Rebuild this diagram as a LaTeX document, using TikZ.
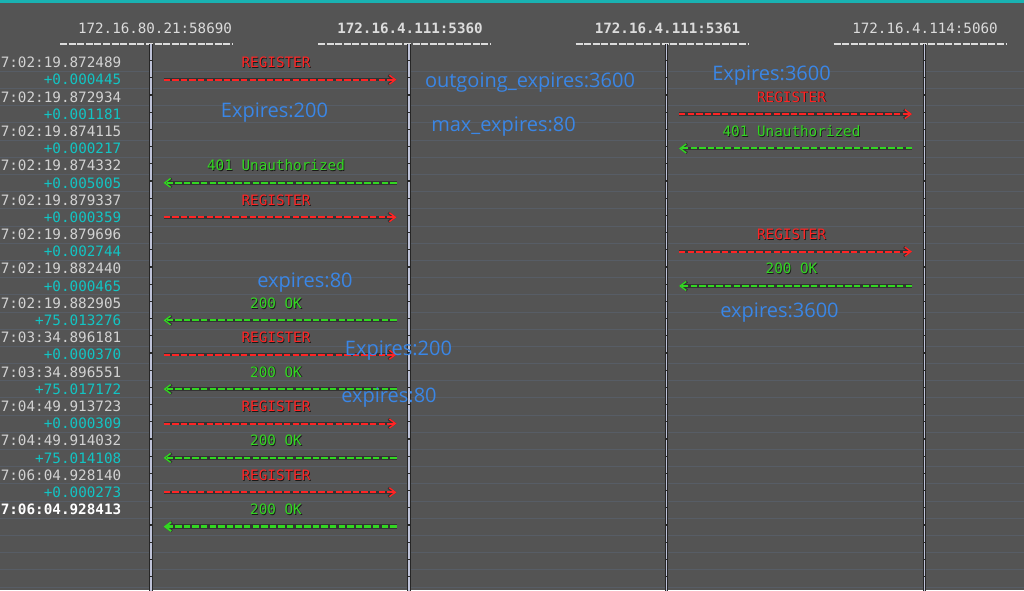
\documentclass[tikz,border=0pt]{standalone}
\usepackage{fontspec}
\setmonofont{DejaVu Sans Mono}
\newfontfamily\annfont{Open Sans}
\usetikzlibrary{arrows.meta}
\definecolor{bg}{HTML}{545454}
\definecolor{topbar}{HTML}{19B2B2}
\definecolor{hdr}{HTML}{DCDCDC}
\definecolor{tgray}{HTML}{D2D2D2}
\definecolor{tteal}{HTML}{12C4C4}
\definecolor{sipred}{HTML}{FF2424}
\definecolor{sipgreen}{HTML}{33D622}
\definecolor{ann}{HTML}{3A86E6}
\definecolor{lifec}{HTML}{BEC2D8}
\definecolor{gridc}{HTML}{575D66}
\tikzset{
  hdrtxt/.style={font=\ttfamily\fontsize{14.2}{14.2}\selectfont, text=hdr, anchor=base, inner sep=0pt},
  hdrline/.style={draw=hdr, line width=1.4pt, dash pattern=on 7pt off 1.6pt},
  timetxt/.style={font=\ttfamily\fontsize{14.3}{14.3}\selectfont, anchor=base east, inner sep=0pt},
  lbl/.style={font=\ttfamily\fontsize{14.3}{14.3}\selectfont, anchor=base, inner sep=0pt},
  annot/.style={font=\annfont\fontsize{20}{20}\selectfont, text=ann, inner sep=0pt},
  lifeback/.style={draw=black!85, line width=3.4pt},
  lifefront/.style={draw=lifec, line width=1.4pt, dash pattern=on 15.9pt off 1.3pt},
  msgline/.style={draw=#1, line width=2pt, dash pattern=on 6.4pt off 2.2pt,
    -{Straight Barb[length=6pt,width=9pt,line width=1.4pt]},
    preaction={draw=black!80, line width=3.4pt, solid, -{Straight Barb[length=6pt,width=9pt,line width=2.6pt]}}},
  msgbold/.style={draw=#1, line width=3pt, dash pattern=on 6.4pt off 2.2pt,
    -{Straight Barb[length=6pt,width=9pt,line width=2pt]},
    preaction={draw=black!80, line width=4.4pt, solid, -{Straight Barb[length=6pt,width=9pt,line width=3pt]}}},
}
\newcommand\sipmsg[6]{%
  \pgfmathsetmacro\mly{62.5+17.19*#1+5.2}%
  \pgfmathsetmacro\may{62.5+17.19*(#1+1)}%
  \pgfmathsetmacro\mlx{(#2+#3)/2-4}%
  \coordinate (s#1) at (#2,\may);
  \coordinate (e#1) at (#3,\may);
  \draw[#6=#5] (s#1) -- (e#1);
  \node[lbl,text=black!90] (k#1) at (\mlx+0.8,\mly+0.8) {#4};
  \node[lbl,text=#5] (l#1) at (\mlx,\mly) {#4};
}
\begin{document}
\begin{tikzpicture}[x=1pt,y=-1pt]
\useasboundingbox (0,0) rectangle (1024,590);
\fill[bg] (0,0) rectangle (1024,590);
\fill[topbar] (0,0) rectangle (1024,2.5);
% faint grid
\foreach \k in {0,...,30} {
  \pgfmathsetmacro\gy{62.5+17.19*(\k+0.5)}
  \draw[gridc, line width=0.5pt] (0,\gy) -- (1024,\gy);
}
% headers
\node[hdrtxt] (h1) at (155,33) {172.16.80.21:58690};
\node[hdrtxt, font=\ttfamily\bfseries\fontsize{14.2}{14.2}\selectfont] (h2) at (410,33) {172.16.4.111:5360};
\node[hdrtxt, font=\ttfamily\bfseries\fontsize{14.2}{14.2}\selectfont] (h3) at (667.5,33) {172.16.4.111:5361};
\node[hdrtxt] (h4) at (925,33) {172.16.4.114:5060};
\foreach \c/\x in {1/151,2/409,3/666.5,4/924.5} {
  \coordinate (ul\c) at (\x-91,44);
  \coordinate (ur\c) at (\x+82,44);
  \draw[hdrline] (ul\c) -- (ur\c);
  \coordinate (top\c) at (\x,44);
  \coordinate (bot\c) at (\x,592);
  \draw[lifeback] (top\c) -- (bot\c);
  \draw[lifefront] (top\c) -- (bot\c);
}
% timestamps
\foreach \t [count=\i from 0] in {7:02:19.872489,7:02:19.872934,7:02:19.874115,7:02:19.874332,7:02:19.879337,7:02:19.879696,7:02:19.882440,7:02:19.882905,7:03:34.896181,7:03:34.896551,7:04:49.913723,7:04:49.914032,7:06:04.928140} {
  \pgfmathsetmacro\ty{62.5+17.19*2*\i+5.2}
  \node[timetxt, text=tgray] (t\i) at (121.5,\ty) {\t};
}
\node[timetxt, text=white, font=\ttfamily\bfseries\fontsize{14.3}{14.3}\selectfont] (tlast) at (121.5,{62.5+17.19*26+5.2}) {7:06:04.928413};
\foreach \d [count=\i from 0] in {+0.000445,+0.001181,+0.000217,+0.005005,+0.000359,+0.002744,+0.000465,+75.013276,+0.000370,+75.017172,+0.000309,+75.014108,+0.000273} {
  \pgfmathsetmacro\dy{62.5+17.19*(2*\i+1)+5.2}
  \node[timetxt, text=tteal] (d\i) at (121.5,\dy) {\d};
}
% messages
\sipmsg{0}{163.5}{396.5}{REGISTER}{sipred}{msgline}
\sipmsg{2}{679}{912}{REGISTER}{sipred}{msgline}
\sipmsg{4}{912}{679}{401 Unauthorized}{sipgreen}{msgline}
\sipmsg{6}{396.5}{163.5}{401 Unauthorized}{sipgreen}{msgline}
\sipmsg{8}{163.5}{396.5}{REGISTER}{sipred}{msgline}
\sipmsg{10}{679}{912}{REGISTER}{sipred}{msgline}
\sipmsg{12}{912}{679}{200 OK}{sipgreen}{msgline}
\sipmsg{14}{396.5}{163.5}{200 OK}{sipgreen}{msgline}
\sipmsg{16}{163.5}{396.5}{REGISTER}{sipred}{msgline}
\sipmsg{18}{396.5}{163.5}{200 OK}{sipgreen}{msgline}
\sipmsg{20}{163.5}{396.5}{REGISTER}{sipred}{msgline}
\sipmsg{22}{396.5}{163.5}{200 OK}{sipgreen}{msgline}
\sipmsg{24}{163.5}{396.5}{REGISTER}{sipred}{msgline}
\sipmsg{26}{396.5}{163.5}{200 OK}{sipgreen}{msgbold}
% annotations
\node[annot] (a1) at (274.5,113) {Expires:200};
\node[annot] (a2) at (530,83) {outgoing\_expires:3600};
\node[annot] (a3) at (503.5,127) {max\_expires:80};
\node[annot] (a4) at (771.5,76) {Expires:3600};
\node[annot] (a5) at (305,283) {expires:80};
\node[annot] (a6) at (779.5,313) {expires:3600};
\node[annot] (a7) at (398.5,351) {Expires:200};
\node[annot] (a8) at (389,398) {expires:80};
\end{tikzpicture}
\end{document}
